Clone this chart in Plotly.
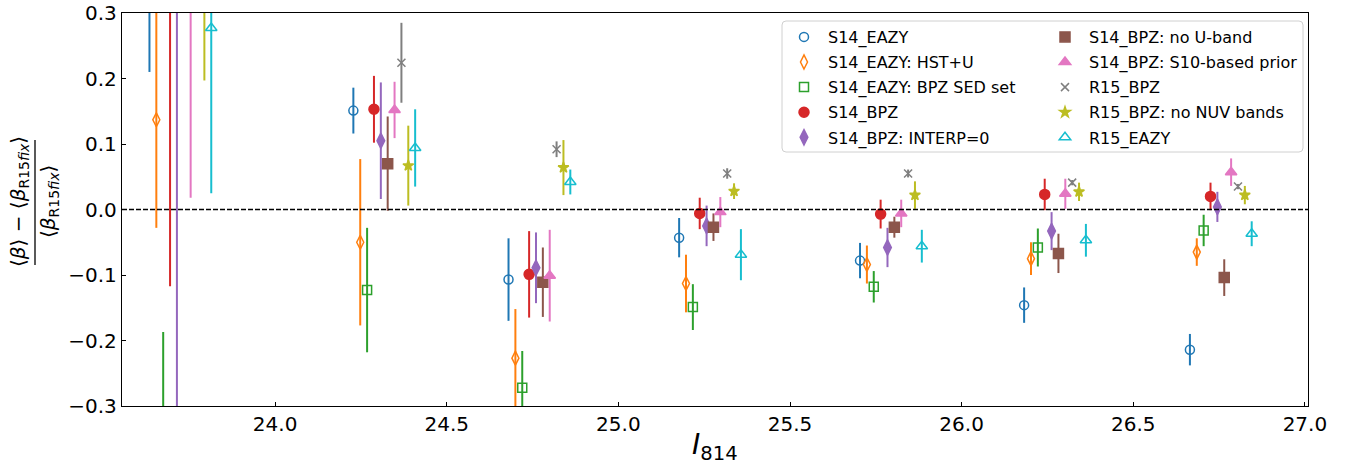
import plotly.graph_objects as go

# ---------------- data ----------------
bin_centers = [23.724, 24.318, 24.770, 25.267, 25.794, 26.272, 26.755]
offset_step = 0.02

names = [
    "S14_EAZY", "S14_EAZY: HST+U", "S14_EAZY: BPZ SED set", "S14_BPZ",
    "S14_BPZ: INTERP=0", "S14_BPZ: no U-band", "S14_BPZ: S10-based prior",
    "R15_BPZ", "R15_BPZ: no NUV bands", "R15_EAZY",
]

s14_eazy = [0.36, 0.151, -0.107, -0.043, -0.078, -0.146, -0.214]
s14_eazy_err = [0.15, 0.035, 0.063, 0.030, 0.027, 0.027, 0.024]
s14_eazy_hstu = [0.137, -0.050, -0.227, -0.113, -0.084, -0.075, -0.065]
s14_eazy_hstu_err = [0.165, 0.127, 0.075, 0.044, 0.029, 0.025, 0.021]
s14_eazy_bpzsed = [-0.40, -0.123, -0.272, -0.149, -0.118, -0.058, -0.032]
s14_eazy_bpzsed_err = [0.213, 0.095, 0.056, 0.035, 0.024, 0.029, 0.024]
s14_bpz = [0.35, 0.153, -0.099, -0.006, -0.007, 0.023, 0.020]
s14_bpz_err = [0.467, 0.051, 0.066, 0.024, 0.022, 0.024, 0.021]
s14_bpz_interp0 = [-0.35, 0.105, -0.089, -0.025, -0.058, -0.033, 0.004]
s14_bpz_interp0_err = [0.70, 0.089, 0.054, 0.031, 0.030, 0.029, 0.023]
s14_bpz_nou = [None, 0.070, -0.111, -0.027, -0.027, -0.067, -0.104]
s14_bpz_nou_err = [None, 0.072, 0.053, 0.021, 0.016, 0.030, 0.028]
s14_bpz_s10 = [0.33, 0.152, -0.101, -0.004, -0.006, 0.024, 0.057]
s14_bpz_s10_err = [0.312, 0.043, 0.070, 0.023, 0.021, 0.023, 0.021]
r15_bpz = [None, 0.224, 0.092, 0.055, 0.055, 0.041, 0.035]
r15_bpz_err = [None, 0.061, 0.012, 0.008, 0.006, 0.004, 0.004]
r15_bpz_nonuv = [0.33, 0.067, 0.064, 0.028, 0.022, 0.027, 0.022]
r15_bpz_nonuv_err = [0.133, 0.061, 0.042, 0.012, 0.021, 0.014, 0.014]
r15_eazy = [0.277, 0.094, 0.042, -0.069, -0.056, -0.047, -0.037]
r15_eazy_err = [0.252, 0.059, 0.019, 0.039, 0.025, 0.025, 0.019]

values = [s14_eazy, s14_eazy_hstu, s14_eazy_bpzsed, s14_bpz, s14_bpz_interp0,
          s14_bpz_nou, s14_bpz_s10, r15_bpz, r15_bpz_nonuv, r15_eazy]
errors = [s14_eazy_err, s14_eazy_hstu_err, s14_eazy_bpzsed_err, s14_bpz_err,
          s14_bpz_interp0_err, s14_bpz_nou_err, s14_bpz_s10_err, r15_bpz_err,
          r15_bpz_nonuv_err, r15_eazy_err]

x_ticks = [24.0, 24.5, 25.0, 25.5, 26.0, 26.5, 27.0]
y_ticks = [-0.3, -0.2, -0.1, 0.0, 0.1, 0.2, 0.3]

# ---------------- style ----------------
colors = ["#1f77b4", "#ff7f0e", "#2ca02c", "#d62728", "#9467bd",
          "#8c564b", "#e377c2", "#7f7f7f", "#bcbd22", "#17becf"]
symbols = ["circle-open", "diamond-tall-open", "square-open", "circle", "diamond-tall",
           "square", "triangle-up", "x-thin-open", "star", "triangle-up-open"]
sizes = [9, 10, 9, 10, 11, 10, 10, 8, 8, 10]

FONT = "DejaVu Sans"
fig = go.Figure()

for i, (nm, v, e) in enumerate(zip(names, values, errors)):
    xs = [c + (i - 4.5) * offset_step for c in bin_centers]
    fig.add_trace(go.Scatter(
        x=xs, y=v, mode="markers", name=nm,
        legend="legend" if i < 5 else "legend2",
        legendgroup=nm,
        marker=dict(symbol=symbols[i], size=sizes[i], color=colors[i],
                    line=dict(color=colors[i], width=1.5)),
        error_y=dict(type="data", array=[x if x is not None else 0 for x in e],
                     visible=True, color=colors[i], thickness=2, width=0),
        cliponaxis=True,
    ))

# plot area in pixels: x 122..1308, y 13..406
W, H = 1349, 471
L, R, T, B = 122, 1308, 13, 406
pw, ph = R - L, B - T

def px(xp):
    return (xp - L) / pw

def py(yp):
    return (B - yp) / ph

# legend frame (rounded)
x0, x1 = px(782), px(1303)
y1, y0 = py(21), py(152)
rx, ry = 4 / pw, 4 / ph
path = (f"M {x0+rx},{y1} L {x1-rx},{y1} Q {x1},{y1} {x1},{y1-ry} "
        f"L {x1},{y0+ry} Q {x1},{y0} {x1-rx},{y0} L {x0+rx},{y0} "
        f"Q {x0},{y0} {x0},{y0+ry} L {x0},{y1-ry} Q {x0},{y1} {x0+rx},{y1} Z")

shapes = [
    dict(type="line", xref="paper", yref="y", x0=0, x1=1, y0=0, y1=0,
         line=dict(color="black", width=1.3, dash="5px,2px"), layer="above"),
    dict(type="path", xref="paper", yref="paper", path=path,
         line=dict(color="#d0d0d0", width=1), fillcolor="rgba(255,255,255,0.8)",
         layer="above"),
    # fraction bar of y-axis label
    dict(type="line", xref="paper", yref="paper", x0=px(35), x1=px(35),
         y0=py(265), y1=py(140), line=dict(color="black", width=1.3)),
]

annotations = [
    dict(text="⟨<i>β</i>⟩ − ⟨<i>β</i><sub>R15<i>fix</i></sub>⟩", xref="paper", yref="paper",
         x=px(19), y=py(202), textangle=-90, showarrow=False,
         xanchor="center", yanchor="middle", font=dict(family=FONT, size=20, color="black")),
    dict(text="⟨<i>β</i><sub>R15<i>fix</i></sub>⟩", xref="paper", yref="paper",
         x=px(49), y=py(202), textangle=-90, showarrow=False,
         xanchor="center", yanchor="middle", font=dict(family=FONT, size=20, color="black")),
    dict(text="<i>I</i><sub>814</sub>", xref="paper", yref="paper",
         x=0.5, y=py(446), showarrow=False, xanchor="center", yanchor="middle",
         font=dict(family=FONT, size=28, color="black")),
]

legend_common = dict(
    orientation="v", bgcolor="rgba(0,0,0,0)", borderwidth=0,
    font=dict(family=FONT, size=16, color="black"),
    xanchor="left", yanchor="top", tracegroupgap=1.3, itemwidth=38,
)

fig.update_layout(
    width=W, height=H,
    margin=dict(l=L, r=W - R, t=T, b=H - B, pad=0, autoexpand=False),
    paper_bgcolor="white", plot_bgcolor="white",
    font=dict(family=FONT, size=20, color="black"),
    shapes=shapes, annotations=annotations,
    legend=dict(x=px(780), y=py(20), **legend_common),
    legend2=dict(x=px(1041), y=py(20), **legend_common),
    showlegend=True,
)

fig.update_xaxes(
    range=[23.554, 27.009], tickvals=x_ticks, ticktext=[f"{t:.1f}" for t in x_ticks],
    ticks="inside", ticklen=4, tickwidth=1, tickcolor="black",
    showline=True, linecolor="black", linewidth=1.3, mirror=True,
    showgrid=False, zeroline=False, automargin=False,
    tickfont=dict(family=FONT, size=20, color="black"),
)
fig.update_yaxes(
    range=[-0.3, 0.3], tickvals=y_ticks,
    ticktext=[f"{t:.1f}".replace("-", "−") for t in y_ticks],
    ticks="inside", ticklen=4, tickwidth=1, tickcolor="black",
    showline=True, linecolor="black", linewidth=1.3, mirror=True,
    showgrid=False, zeroline=False, automargin=False,
    tickfont=dict(family=FONT, size=20, color="black"),
)

fig.write_html("out.html")
